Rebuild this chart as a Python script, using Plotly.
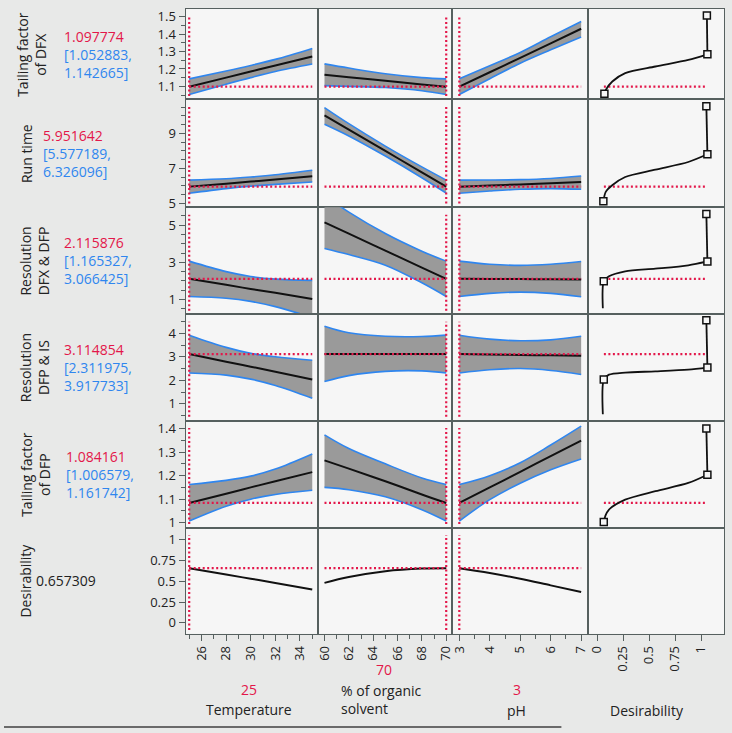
import plotly.graph_objects as go

# ---------------- data ----------------
factor_names = ["Temperature", "% of organic<br>solvent", "pH"]
factor_current = [25, 70, 3]
resp_names = ["Tailing factor<br>of DFX", "Run time", "Resolution<br>DFX & DFP",
              "Resolution<br>DFP & IS", "Tailing factor<br>of DFP", "Desirability"]
resp_current = [1.097774, 5.951642, 2.115876, 3.114854, 1.084161, 0.657309]
resp_text = ["1.097774", "5.951642", "2.115876", "3.114854", "1.084161", "0.657309"]
ci_lo_text = ["1.052883", "5.577189", "1.165327", "2.311975", "1.006579"]
ci_hi_text = ["1.142665", "6.326096", "3.066425", "3.917733", "1.161742"]

temp_x = [25, 28, 30, 32, 35]
org_x = [60, 62, 65, 68, 70]
ph_x = [3, 4, 5, 6, 7]

# Tailing factor of DFX
tdfx_pred = {"temp": [1.098, 1.150, 1.185, 1.220, 1.272], "org": [1.166, 1.152, 1.132, 1.111, 1.098], "ph": [1.098, 1.181, 1.264, 1.347, 1.431]}
tdfx_hi = {"temp": [1.143, 1.188, 1.220, 1.255, 1.318], "org": [1.229, 1.205, 1.172, 1.150, 1.143], "ph": [1.143, 1.218, 1.295, 1.385, 1.473]}
tdfx_lo = {"temp": [1.053, 1.112, 1.150, 1.185, 1.228], "org": [1.104, 1.100, 1.093, 1.075, 1.053], "ph": [1.053, 1.144, 1.233, 1.310, 1.384]}
# Run time
run_pred = {"temp": [5.952, 6.12, 6.24, 6.36, 6.54], "org": [10.03, 9.21, 7.99, 6.77, 5.952], "ph": [5.952, 6.02, 6.08, 6.14, 6.22]}
run_hi = {"temp": [6.326, 6.40, 6.50, 6.63, 6.89], "org": [10.47, 9.55, 8.27, 7.08, 6.326], "ph": [6.326, 6.33, 6.35, 6.42, 6.56]}
run_lo = {"temp": [5.577, 5.84, 5.98, 6.08, 6.22], "org": [9.52, 8.85, 7.70, 6.46, 5.577], "ph": [5.577, 5.70, 5.80, 5.84, 5.80]}
# Resolution DFX & DFP
rxp_pred = {"temp": [2.116, 1.79, 1.57, 1.36, 1.03], "org": [5.15, 4.54, 3.63, 2.72, 2.116], "ph": [2.116, 2.11, 2.10, 2.09, 2.08]}
rxp_hi = {"temp": [3.066, 2.50, 2.24, 2.10, 2.03], "org": [6.60, 5.70, 4.55, 3.60, 3.066], "ph": [3.066, 2.90, 2.84, 2.90, 3.05]}
rxp_lo = {"temp": [1.165, 1.07, 0.90, 0.62, 0.03], "org": [3.75, 3.42, 2.85, 1.90, 1.165], "ph": [1.165, 1.33, 1.40, 1.33, 1.15]}
# Resolution DFP & IS
rpi_pred = {"temp": [3.115, 2.79, 2.58, 2.36, 2.03], "org": [3.12, 3.12, 3.12, 3.12, 3.115], "ph": [3.115, 3.10, 3.08, 3.06, 3.04]}
rpi_hi = {"temp": [3.918, 3.40, 3.15, 3.00, 2.85], "org": [4.30, 4.02, 3.87, 3.86, 3.918], "ph": [3.918, 3.75, 3.68, 3.72, 3.87]}
rpi_lo = {"temp": [2.312, 2.22, 2.05, 1.78, 1.24], "org": [1.95, 2.20, 2.38, 2.40, 2.312], "ph": [2.312, 2.45, 2.50, 2.42, 2.25]}
# Tailing factor of DFP
tdfp_pred = {"temp": [1.084, 1.123, 1.150, 1.176, 1.215], "org": [1.265, 1.230, 1.176, 1.120, 1.084], "ph": [1.084, 1.150, 1.216, 1.283, 1.349]}
tdfp_hi = {"temp": [1.162, 1.180, 1.198, 1.228, 1.292], "org": [1.373, 1.315, 1.250, 1.190, 1.162], "ph": [1.162, 1.200, 1.255, 1.330, 1.410]}
tdfp_lo = {"temp": [1.007, 1.070, 1.100, 1.120, 1.138], "org": [1.150, 1.140, 1.110, 1.055, 1.007], "ph": [1.007, 1.098, 1.168, 1.225, 1.271]}
# Desirability
des_pred = {"temp": [0.657, 0.58, 0.53, 0.48, 0.40], "org": [0.48, 0.55, 0.62, 0.652, 0.657], "ph": [0.657, 0.60, 0.53, 0.45, 0.37]}

# desirability functions (x = desirability, y = response)
dfun_d = [[0.07, 0.085, 0.146, 0.27, 0.56, 0.876, 1.06],
          [0.06, 0.083, 0.145, 0.27, 0.56, 0.876, 1.06],
          [0.055, 0.064, 0.114, 0.27, 0.56, 0.876, 1.06],
          [0.055, 0.064, 0.114, 0.27, 0.56, 0.876, 1.06],
          [0.064, 0.08, 0.114, 0.27, 0.56, 0.876, 1.06]]
dfun_v = [[1.058, 1.081, 1.128, 1.176, 1.214, 1.252, 1.284],
          [5.11, 5.65, 6.03, 6.5, 6.92, 7.36, 7.8],
          [0.53, 1.99, 2.25, 2.52, 2.66, 2.84, 3.05],
          [0.56, 2.03, 2.24, 2.33, 2.38, 2.45, 2.54],
          [1.003, 1.03, 1.056, 1.098, 1.134, 1.169, 1.204]]
dmark_d = [[0.07, 1.06, 1.055], [0.06, 1.06, 1.05], [0.064, 1.06, 1.05], [0.064, 1.06, 1.05], [0.064, 1.06, 1.05]]
dmark_v = [[1.058, 1.284, 1.507], [5.11, 7.8, 10.54], [1.99, 3.05, 5.6], [2.03, 2.54, 4.55], [1.003, 1.204, 1.40]]

# axis ticks
y_ranges = [[1.026, 1.545], [4.77, 10.95], [0.2, 5.96], [0.29, 4.8], [0.979, 1.434], [-0.131, 1.143]]
y_tickvals = [[1.1, 1.2, 1.3, 1.4, 1.5], [5, 7, 9], [1, 3, 5], [1, 2, 3, 4], [1, 1.1, 1.2, 1.3, 1.4], [0, 0.25, 0.5, 0.75, 1]]
y_ticktext = [["1.1", "1.2", "1.3", "1.4", "1.5"], ["5", "7", "9"], ["1", "3", "5"], ["1", "2", "3", "4"],
              ["1", "1.1", "1.2", "1.3", "1.4"], ["0", "0.25", "0.5", "0.75", "1"]]
y_minor = [0.05, 0.5, 0.5, 0.5, 0.05, 0.25]
x_ranges = [[24.7, 35.5], [59.5, 70.5], [2.77, 7.23], [-0.086, 1.22]]
x_tickvals = [[26, 28, 30, 32, 34], [60, 62, 64, 66, 68, 70], [3, 4, 5, 6, 7], [0, 0.25, 0.5, 0.75, 1]]
x_ticktext = [["26", "28", "30", "32", "34"], ["60", "62", "64", "66", "68", "70"], ["3", "4", "5", "6", "7"],
              ["0", "0.25", "0.5", "0.75", "1"]]
x_minor = [1, 1, 0.5, 0.25]

# ---------------- layout ----------------
W, H = 732, 733
col_px = [(183, 317), (317, 452), (452, 589), (589, 726)]
row_px = [(7, 98), (98, 207), (207, 315), (315, 422), (422, 530), (530, 637)]
RED = "#e3174a"
BLUE = "#2f86ef"
BAND = "#9a9a9a"
FRAME = "#56605f"
FONT = "Open Sans, Noto Sans, sans-serif"

def px_x(p):
    return p / W

def px_y(p):
    return 1 - p / H

fig = go.Figure()
layout = {}

def ax_id(r, c):
    return r * 4 + c + 1

for r in range(6):
    for c in range(4):
        i = ax_id(r, c)
        xn = "xaxis" if i == 1 else f"xaxis{i}"
        yn = "yaxis" if i == 1 else f"yaxis{i}"
        bottom = r == 5
        left = c == 0
        layout[xn] = dict(domain=[px_x(col_px[c][0]), px_x(col_px[c][1])], anchor=f"y{i}" if i > 1 else "y",
                          range=x_ranges[c], showgrid=False, zeroline=False, showline=True, mirror=True,
                          linecolor=FRAME, linewidth=1,
                          ticks="outside" if bottom else "", showticklabels=bottom,
                          tickvals=x_tickvals[c], ticktext=x_ticktext[c], tickangle=-90,
                          ticklen=6, tickcolor=FRAME,
                          tickfont=dict(family=FONT, size=13, color="#222222"),
                          minor=dict(ticks="outside" if bottom else "", dtick=x_minor[c], tick0=0,
                                     ticklen=4, tickcolor=FRAME))
        layout[yn] = dict(domain=[px_y(row_px[r][1]), px_y(row_px[r][0])], anchor=f"x{i}" if i > 1 else "x",
                          range=y_ranges[r], showgrid=False, zeroline=False, showline=True, mirror=True,
                          linecolor=FRAME, linewidth=1,
                          ticks="outside" if left else "", showticklabels=left,
                          tickvals=y_tickvals[r], ticktext=y_ticktext[r],
                          ticklen=6, tickcolor=FRAME,
                          tickfont=dict(family=FONT, size=13, color="#222222"),
                          minor=dict(ticks="outside" if left else "", dtick=y_minor[r], tick0=0,
                                     ticklen=4, tickcolor=FRAME))

def refs(r, c):
    i = ax_id(r, c)
    return ("x" if i == 1 else f"x{i}"), ("y" if i == 1 else f"y{i}")

factor_x = [temp_x, org_x, ph_x]
keys = ["temp", "org", "ph"]
preds = [tdfx_pred, run_pred, rxp_pred, rpi_pred, tdfp_pred]
his = [tdfx_hi, run_hi, rxp_hi, rpi_hi, tdfp_hi]
los = [tdfx_lo, run_lo, rxp_lo, rpi_lo, tdfp_lo]

shapes = []
dot = dict(color=RED, width=2.2, dash="2px,2.5px")

for r in range(6):
    for c in range(3):
        xr, yr = refs(r, c)
        xs = factor_x[c]
        k = keys[c]
        if r < 5:
            fig.add_trace(go.Scatter(x=xs, y=los[r][k], xaxis=xr, yaxis=yr, mode="lines",
                                     line=dict(color=BLUE, width=1.6, shape="spline"), hoverinfo="skip"))
            fig.add_trace(go.Scatter(x=xs, y=his[r][k], xaxis=xr, yaxis=yr, mode="lines", fill="tonexty",
                                     fillcolor=BAND, line=dict(color=BLUE, width=1.6, shape="spline"),
                                     hoverinfo="skip"))
            yv = preds[r][k]
        else:
            yv = des_pred[k]
        fig.add_trace(go.Scatter(x=xs, y=yv, xaxis=xr, yaxis=yr, mode="lines",
                                 line=dict(color="#111111", width=2, shape="spline"), hoverinfo="skip"))
        # red reference lines
        shapes.append(dict(type="line", xref=xr, yref=f"{yr} domain", x0=factor_current[c], x1=factor_current[c],
                           y0=0.035, y1=0.93, line=dot, layer="above"))
        shapes.append(dict(type="line", xref=xr, yref=yr, x0=min(xs), x1=max(xs),
                           y0=resp_current[r], y1=resp_current[r], line=dot, layer="above"))

for r in range(5):
    xr, yr = refs(r, 3)
    shapes.append(dict(type="line", xref=xr, yref=yr, x0=0.065, x1=1.06,
                       y0=resp_current[r], y1=resp_current[r], line=dot, layer="below"))
    fig.add_trace(go.Scatter(x=dfun_d[r], y=dfun_v[r], xaxis=xr, yaxis=yr, mode="lines",
                             line=dict(color="#111111", width=1.8, shape="spline", smoothing=0.8),
                             hoverinfo="skip"))
    fig.add_trace(go.Scatter(x=dmark_d[r][1:], y=dmark_v[r][1:], xaxis=xr, yaxis=yr, mode="lines",
                             line=dict(color="#111111", width=1.8), hoverinfo="skip"))
    fig.add_trace(go.Scatter(x=dmark_d[r], y=dmark_v[r], xaxis=xr, yaxis=yr, mode="markers",
                             marker=dict(symbol="square", size=7, color="#f6f6f6",
                                         line=dict(color="#111111", width=1.5)),
                             hoverinfo="skip"))

# empty bottom-right panel (keeps its background)
xr, yr = refs(5, 3)
fig.add_trace(go.Scatter(x=[None], y=[None], xaxis=xr, yaxis=yr, mode="lines", hoverinfo="skip"))

# bottom dark line
shapes.append(dict(type="line", xref="paper", yref="paper", x0=0, x1=px_x(562), y0=px_y(731), y1=px_y(731),
                   line=dict(color="#6a6a6a", width=2)))

annotations = []
row_center = [(a + b) / 2 for a, b in row_px]
title_x = [27, 22, 31, 31, 31, 22]
value_x = [58, 37, 58, 58, 60, 30]
for r in range(6):
    annotations.append(dict(x=px_x(title_x[r]), y=px_y(row_center[r]), xref="paper", yref="paper",
                            text=resp_names[r], textangle=-90, showarrow=False, xanchor="center",
                            yanchor="middle", font=dict(family=FONT, size=14, color="#222222")))
    if r < 5:
        txt = (f"<span style='color:{RED}'>{resp_text[r]}</span><br>"
               f"<span style='color:{BLUE}'>[{ci_lo_text[r]},</span><br>"
               f"<span style='color:{BLUE}'>{ci_hi_text[r]}]</span>")
    else:
        txt = f"<span style='color:#222222'>{resp_text[r]}</span>"
    annotations.append(dict(x=px_x(value_x[r]), y=px_y(row_center[r]), xref="paper", yref="paper",
                            text=txt, showarrow=False, xanchor="left", yanchor="middle", align="left",
                            font=dict(family=FONT, size=14)))

# bottom factor labels
annotations += [
    dict(x=px_x(247), y=px_y(693), text=str(factor_current[0]), font=dict(color=RED)),
    dict(x=px_x(247), y=px_y(713), text=factor_names[0], font=dict(color="#222222")),
    dict(x=px_x(383), y=px_y(673), text=str(factor_current[1]), font=dict(color=RED)),
    dict(x=px_x(338), y=px_y(703), text=factor_names[1], xanchor="left", align="left", font=dict(color="#222222")),
    dict(x=px_x(517), y=px_y(693), text=str(factor_current[2]), font=dict(color=RED)),
    dict(x=px_x(517), y=px_y(714), text=factor_names[2], font=dict(color="#222222")),
    dict(x=px_x(648), y=px_y(714), text="Desirability", font=dict(color="#222222")),
]
for a in annotations[-7:]:
    a.setdefault("xanchor", "center")
    a["yanchor"] = "middle"
    a["xref"] = "paper"
    a["yref"] = "paper"
    a["showarrow"] = False
    a["font"]["family"] = FONT
    a["font"]["size"] = 14

fig.update_layout(width=W, height=H, margin=dict(l=0, r=0, t=0, b=0),
                  paper_bgcolor="#e8e9e8", plot_bgcolor="#f6f6f6", showlegend=False,
                  shapes=shapes, annotations=annotations, **layout)
fig.write_html("out.html", config={"displayModeBar": False},
               post_script="document.body.style.margin='0px';document.body.style.overflow='hidden';")
